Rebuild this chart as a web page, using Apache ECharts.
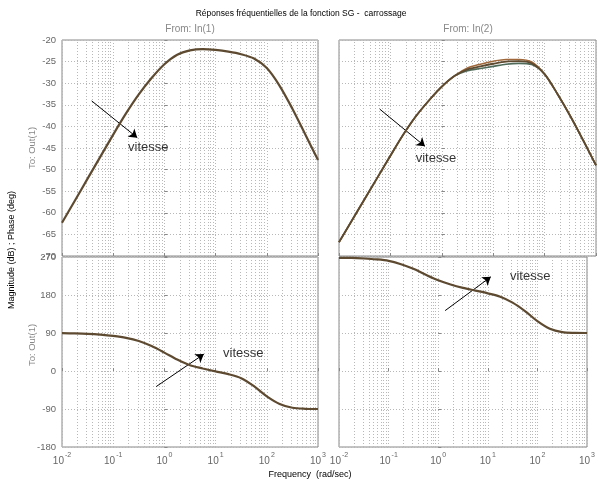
<!DOCTYPE html>
<html>
<head>
<meta charset="utf-8">
<script src="https://cdn.jsdelivr.net/npm/echarts@6/dist/echarts.min.js"></script>
<style>html,body{margin:0;padding:0;background:#fff;}#c{width:598px;height:483px;}</style>
</head>
<body>
<div id="c"></div>
<script>
// ---- data ----
const freq = [0.01, 0.0178, 0.0316, 0.0562, 0.1, 0.178, 0.316, 0.562, 1, 1.78, 3.16, 5.62, 10, 17.8, 31.6, 56.2, 100, 178, 316, 562, 1000];
const magL   = [-62.3,-57.2,-52.1,-47.0,-41.9,-37.0,-32.6,-28.8,-25.6,-23.4,-22.4,-22.1,-22.3,-22.7,-23.3,-24.3,-26.5,-30.6,-35.9,-41.8,-47.8];
const magR   = [-66.8,-61.8,-56.8,-51.8,-46.8,-41.9,-37.6,-34.0,-30.8,-28.3,-26.8,-26.1,-25.5,-25.0,-24.9,-25.4,-27.9,-32.5,-37.6,-43.2,-49.0];
const magRHi = [-66.8,-61.8,-56.8,-51.8,-46.8,-41.9,-37.6,-34.0,-30.8,-28.3,-26.5,-25.6,-24.9,-24.5,-24.5,-25.1,-27.9,-32.5,-37.6,-43.2,-49.0];
const magRLo = [-66.8,-61.8,-56.8,-51.8,-46.8,-41.9,-37.6,-34.0,-30.8,-28.3,-27.1,-26.6,-26.1,-25.6,-25.4,-25.7,-27.9,-32.5,-37.6,-43.2,-49.0];
const phaseL = [89.5,89,88,86,83,78.5,71,59,43.5,27,13.5,6,-1,-7.5,-17,-36,-60,-78,-87,-89.5,-90];
const phaseR = [268,267.8,266.5,264.5,261,253,242,228,215,205,197,190.5,184,176,162,142,118,100,92,90.3,90];
const magTicks = {min:-70, max:-20, interval:5};
const phaseTicks = {min:-180, max:270, interval:90};

const FONT = 'Liberation Sans, Arial, Helvetica, sans-serif';
const lg = v => Math.log10(v);
const pts = arr => freq.map((f,i)=>[lg(f), arr[i]]);

// minor grid lines (2..9 within each decade)
const minorX = [];
for (let d=-2; d<3; d++) for (let k=2; k<=9; k++) minorX.push(d + Math.log10(k));

const gridDefs = [
  {left:62, top:40, width:256, height:216},
  {left:339, top:40, width:257, height:216},
  {left:62, top:257, width:256, height:190},
  {left:339, top:257, width:257, height:190}
];
const GRIDC = '#b8b8b8';

const xAxes = gridDefs.map((g,i)=>({
  type:'value', gridIndex:i, min:-2, max:3, interval:1,
  axisLine:{show:false},
  axisTick:{show:true, inside:true, length:3, lineStyle:{color:'#888'}},
  splitLine:{show:true, lineStyle:{color:GRIDC, type:[1,2], width:1}},
  axisLabel:{show:i>=2, margin:5, showMinLabel:true, showMaxLabel:true, formatter:v=>'{b|10}{s|'+v+'}',
    rich:{b:{fontSize:10, color:'#666', fontFamily:FONT, verticalAlign:'bottom', lineHeight:14},
          s:{fontSize:7, color:'#666', fontFamily:FONT, verticalAlign:'top', lineHeight:14, padding:[0,0,0,1]}}}
}));
const yAxes = gridDefs.map((g,i)=>{
  const t = i<2 ? magTicks : phaseTicks;
  return {type:'value', gridIndex:i, min:t.min, max:t.max, interval:t.interval,
    axisLine:{show:false},
    axisTick:{show:true, inside:true, length:3, lineStyle:{color:'#888'}},
    splitLine:{show:true, lineStyle:{color:GRIDC, type:[1,2], width:1}},
    axisLabel:{show:(i%2===0), showMinLabel:true, showMaxLabel:true, hideOverlap:false,
      fontSize:9.5, color:'#666', fontFamily:FONT, margin:6}};
});

const minorML = {silent:true, symbol:'none', animation:false, label:{show:false},
  lineStyle:{color:GRIDC, type:[1,2], width:1}, data:minorX.map(x=>({xAxis:x}))};

function curve(idx, arr, color, w, withGrid){
  const s = {type:'line', xAxisIndex:idx, yAxisIndex:idx, data:pts(arr), showSymbol:false,
    smooth:0.3, lineStyle:{color:color, width:w}, z:5, silent:true};
  if (withGrid) s.markLine = minorML;
  return s;
}
function note(idx, from, to, textAt){
  return {type:'scatter', xAxisIndex:idx, yAxisIndex:idx, symbolSize:0, z:10, silent:true,
    data:[[lg(textAt[0]), textAt[1]]],
    label:{show:true, formatter:'vitesse', position:'right', distance:0, fontSize:13, color:'#000', fontFamily:FONT},
    markLine:{silent:true, symbol:['none','arrow'], symbolSize:8, label:{show:false},
      lineStyle:{color:'#000', width:1, type:'solid'},
      data:[[{coord:[lg(from[0]), from[1]]},{coord:[lg(to[0]), to[1]]}]]}};
}

const series = [
  curve(0, magL, '#5e4a30', 2.2, true),
  curve(1, magRLo, '#4f6a58', 1.6, true),
  curve(1, magRHi, '#a0683a', 1.6, false),
  curve(1, magR, '#5e4a30', 1.8, false),
  curve(2, phaseL, '#5e4a30', 2.2, true),
  curve(3, phaseR, '#5e4a30', 2.2, true),
  note(0, [0.038,-34.1], [0.295,-42.6], [0.195,-44.9]),
  note(1, [0.062,-36.0], [0.47,-44.6], [0.31,-47.3]),
  note(2, [0.69,-37], [5.9,40], [14,42]),
  note(3, [1.38,143], [11.5,223], [28,225])
];

const txt = (x,y,text,opts={}) => ({type:'text', x:x, y:y, rotation:opts.rot||0, silent:true,
  style:{text:text, fontSize:opts.size||9, fontFamily:FONT, fill:opts.color||'#000', align:'center', verticalAlign:'middle'}});

const chart = echarts.init(document.getElementById('c'), null, {renderer:'canvas'});
chart.setOption({
  animation:false,
  backgroundColor:'#fff',
  grid:gridDefs.map(g=>Object.assign({show:true, borderColor:'#888', borderWidth:1, backgroundColor:'transparent', containLabel:false}, g)),
  xAxis:xAxes, yAxis:yAxes, series:series,
  graphic:[
    txt(301,14,'Réponses fréquentielles de la fonction SG -  carrossage',{size:8.5}),
    txt(190,29,'From: In(1)',{color:'#888', size:10}),
    txt(468,29,'From: In(2)',{color:'#888', size:10}),
    txt(12,250,'Magnitude (dB) ; Phase (deg)',{rot:Math.PI/2}),
    txt(32,148,'To: Out(1)',{rot:Math.PI/2, color:'#888', size:9.5}),
    txt(32,345,'To: Out(1)',{rot:Math.PI/2, color:'#888', size:9.5}),
    txt(310,475,'Frequency  (rad/sec)')
  ]
});
</script>
</body>
</html>
